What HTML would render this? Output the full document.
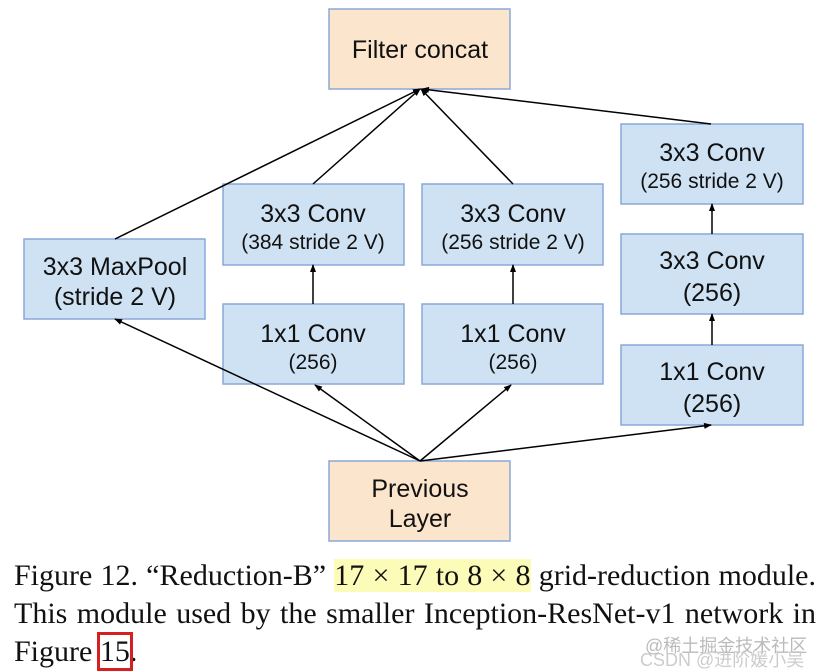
<!DOCTYPE html>
<html><head><meta charset="utf-8"><style>
body{margin:0;background:#fff;width:832px;height:672px;overflow:hidden;position:relative}
svg{position:absolute;left:0;top:0}
.cap{position:absolute;left:14px;width:802px;font-family:"Liberation Serif",serif;font-size:30px;color:#111;white-space:nowrap;text-align:justify;text-align-last:justify;line-height:34px}
.hl{background:#fdfbb8}
.rb{outline:3px solid #d42020;outline-offset:0}
</style></head><body>
<svg width="832" height="672" font-family="Liberation Sans, sans-serif" fill="#111">
<defs><marker id="a" markerWidth="8" markerHeight="8" refX="7" refY="4" orient="auto" markerUnits="userSpaceOnUse"><path d="M0,1 L8,4 L0,7 z" fill="#000"/></marker></defs>
<g stroke="#8aa8d8" stroke-width="1.5">
<rect x="329" y="9" width="181" height="80" fill="#fce5cd"/>
<rect x="329" y="461" width="181" height="80" fill="#fce5cd"/>
<rect x="24" y="239" width="181" height="80" fill="#cfe2f3"/>
<rect x="223" y="184" width="181" height="81" fill="#cfe2f3"/>
<rect x="223" y="304" width="181" height="80" fill="#cfe2f3"/>
<rect x="422" y="184" width="181" height="81" fill="#cfe2f3"/>
<rect x="422" y="304" width="181" height="80" fill="#cfe2f3"/>
<rect x="621" y="124" width="182" height="80" fill="#cfe2f3"/>
<rect x="621" y="234" width="182" height="80" fill="#cfe2f3"/>
<rect x="621" y="345" width="182" height="80" fill="#cfe2f3"/>
</g>
<g stroke="#000" stroke-width="1.5" marker-end="url(#a)">
<line x1="115" y1="239" x2="420" y2="89"/>
<line x1="313" y1="184" x2="420" y2="89"/>
<line x1="513" y1="184" x2="421" y2="89"/>
<line x1="711" y1="124" x2="422" y2="89"/>
<line x1="313" y1="304" x2="313" y2="265"/>
<line x1="513" y1="304" x2="513" y2="265"/>
<line x1="712" y1="234" x2="712" y2="204"/>
<line x1="712" y1="345" x2="712" y2="314"/>
<line x1="420" y1="461" x2="115" y2="319"/>
<line x1="420" y1="461" x2="315" y2="385"/>
<line x1="420" y1="461" x2="511" y2="385"/>
<line x1="420" y1="461" x2="711" y2="425"/>
</g>
<g text-anchor="middle" font-size="25">
<text x="420" y="58">Filter concat</text>
<text x="420" y="497">Previous</text><text x="420" y="527">Layer</text>
<text x="115" y="275">3x3 MaxPool</text><text x="115" y="305">(stride 2 V)</text>
<text x="313" y="222">3x3 Conv</text><text x="313" y="249" font-size="21">(384 stride 2 V)</text>
<text x="313" y="342">1x1 Conv</text><text x="313" y="369" font-size="21">(256)</text>
<text x="513" y="222">3x3 Conv</text><text x="513" y="249" font-size="21">(256 stride 2 V)</text>
<text x="513" y="342">1x1 Conv</text><text x="513" y="369" font-size="21">(256)</text>
<text x="712" y="161">3x3 Conv</text><text x="712" y="188" font-size="21">(256 stride 2 V)</text>
<text x="712" y="269">3x3 Conv</text><text x="712" y="301">(256)</text>
<text x="712" y="380">1x1 Conv</text><text x="712" y="412">(256)</text>
</g>
</svg>
<div class="cap" style="top:559px">Figure 12. “Reduction-B” <span class="hl">17 × 17 to 8 × 8</span> grid-reduction module.</div>
<div class="cap" style="top:597px">This module used by the smaller Inception-ResNet-v1 network in</div>
<div class="cap" style="top:635px;width:auto;text-align-last:auto">Figure <span class="rb">15</span>.</div>
<div style="position:absolute;left:645px;top:632px;font:18px 'Liberation Sans','Noto Sans CJK SC',sans-serif;color:#bbb">@稀土掘金技术社区</div>
<div style="position:absolute;left:640px;top:646px;font:18px 'Liberation Sans','Noto Sans CJK SC',sans-serif;color:#ccc">CSDN @进阶媛小吴</div>
</body></html>
